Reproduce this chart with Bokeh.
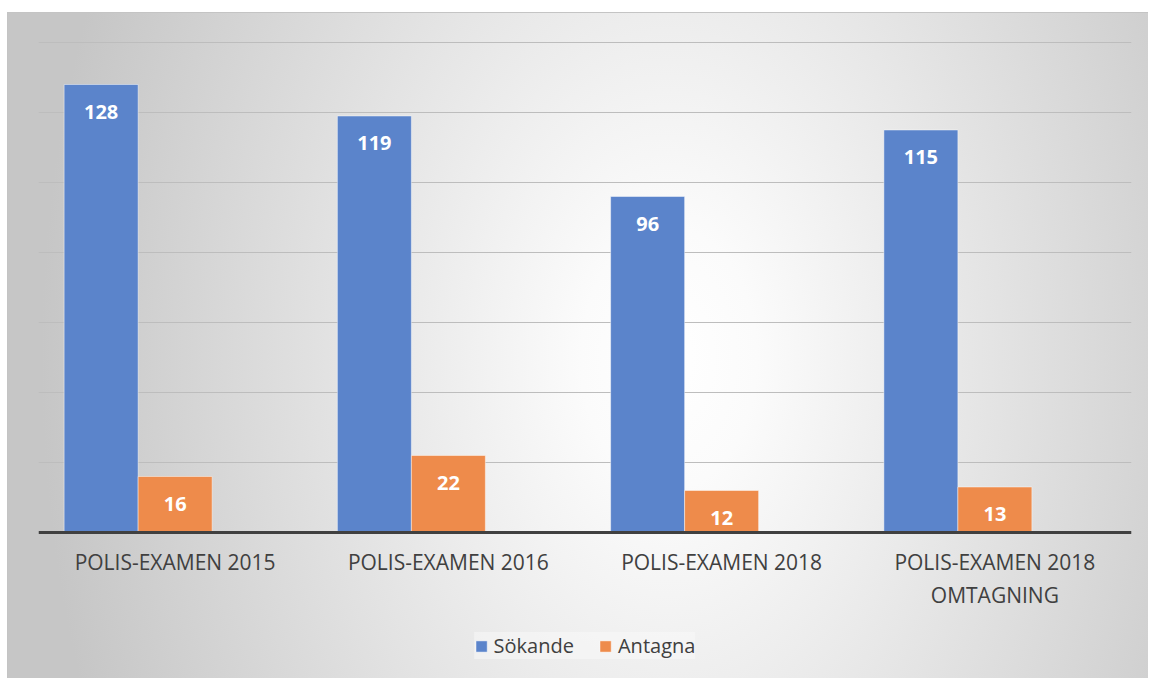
from bokeh.plotting import figure
from bokeh.models import ColumnDataSource, FactorRange, Range1d, FixedTicker, Legend, LegendItem
from bokeh.transform import dodge
from bokeh.core.properties import value
from bokeh.embed import file_html
from bokeh.resources import INLINE

categories = ["POLIS-EXAMEN 2015", "POLIS-EXAMEN 2016", "POLIS-EXAMEN 2018", "POLIS-EXAMEN 2018\nOMTAGNING"]
sokande = [128, 119, 96, 115]
antagna = [16, 22, 12, 13]
series_names = ["Sökande", "Antagna"]
y_ticks = [0, 20, 40, 60, 80, 100, 120, 140]

src = ColumnDataSource(dict(
    cat=categories,
    sok=sokande,
    ant=antagna,
    sok_lbl=[str(v) for v in sokande],
    ant_lbl=[str(v) for v in antagna],
))

# 3.5 px per unit; the frame reaches 1 px above the top gridline (140)
# and 146 px below the zero line, leaving room for the labels and legend
px_per_unit = 3.5
y_top = 140 + 1 / px_per_unit
y_bottom = -146 / px_per_unit

p = figure(
    width=1148, height=678,
    x_range=FactorRange(factors=categories, range_padding=0),
    y_range=Range1d(y_bottom, y_top),
    output_backend="svg", toolbar_location=None,
    min_border_left=38, min_border_right=17, min_border_top=41, min_border_bottom=0,
)
p.background_fill_alpha = 0
p.border_fill_alpha = 0
p.outline_line_color = None
p.styles = {
    "background":
        "linear-gradient(#c4c4c4, #c4c4c4) 7px 12px / calc(100% - 7px) 1px no-repeat, "
        "linear-gradient(#c4c4c4, #c4c4c4) 7px 12px / 1px calc(100% - 12px) no-repeat, "
        "radial-gradient(ellipse 55% 140% at 58% 52%, #ffffff 0%, #fbfbfb 14%, #c6c6c6 100%) "
        "7px 12px / calc(100% - 7px) calc(100% - 12px) no-repeat",
}

w = 0.2708
r1 = p.vbar(x=dodge("cat", -w, range=p.x_range), top="sok", bottom=0, width=w, source=src,
            fill_color="#5b84cb", line_color="#ffffff", line_alpha=0.45, line_width=1)
r2 = p.vbar(x=dodge("cat", 0, range=p.x_range), top="ant", bottom=0, width=w, source=src,
            fill_color="#ee8b4b", line_color="#ffffff", line_alpha=0.45, line_width=1)

for col, lbl, off in (("sok", "sok_lbl", -w), ("ant", "ant_lbl", 0)):
    p.text(x=dodge("cat", off, range=p.x_range), y=col, text=lbl, source=src,
           text_align="center", text_baseline="middle", y_offset=27,
           text_color="white", text_font=value("Open Sans"), text_font_style="bold",
           text_font_size="20px")

p.yaxis.visible = False
p.yaxis.ticker = FixedTicker(ticks=y_ticks)
p.ygrid.ticker = FixedTicker(ticks=y_ticks)
p.ygrid.grid_line_color = "#bdbdbd"
p.ygrid.grid_line_width = 1
p.xgrid.visible = False

ax = p.xaxis[0]
ax.fixed_location = 0
ax.major_label_text_font = "Open Sans"
ax.major_label_text_font_size = "21px"
ax.major_label_text_color = "#404040"
ax.major_label_standoff = 9
ax.axis_line_width = 3
ax.axis_line_color = "#404040"
ax.major_tick_line_color = None
ax.minor_tick_line_color = None

legend = Legend(
    items=[LegendItem(label=series_names[0], renderers=[r1]),
           LegendItem(label=series_names[1], renderers=[r2])],
    orientation="horizontal", location="bottom_center",
    glyph_width=14, glyph_height=14,
    label_text_font="Open Sans", label_text_font_size="20px", label_text_color="#404040",
    label_standoff=6, spacing=24, padding=12, margin=19,
    border_line_color=None, background_fill_color="#fafafa", background_fill_alpha=0.5,
)
p.add_layout(legend, "center")

open("out.html", "w").write(file_html(p, INLINE, title="Polis-examen"))
